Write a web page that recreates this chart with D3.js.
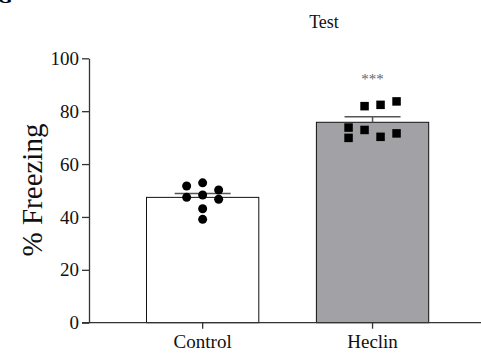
<!DOCTYPE html>
<html>
<head>
<meta charset="utf-8">
<script src="https://cdn.jsdelivr.net/npm/d3@7"></script>
<style>
  body { margin: 0; background: #fff; }
  text { font-family: "Liberation Serif", "Times New Roman", serif; }
</style>
</head>
<body>
<div id="chart"></div>
<script>
const groups = ['Control', 'Heclin'];
const means = [47.4, 75.8];
const sems = [1.5, 2.1];
const controlPoints = [51.7, 52.9, 50.2, 47.4, 48.3, 46.7, 43.1, 39.1];
const controlSlots = [-1, 0, 1, -1, 0, 1, 0, 0];
const heclinPoints = [81.9, 82.4, 83.7, 73.8, 69.9, 72.9, 70.3, 71.6];
const heclinSlots = [-0.5, 0.5, 1.5, -1.5, -1.5, -0.5, 0.5, 1.5];
const yTicks = [0, 20, 40, 60, 80, 100];
const fills = ['#ffffff', '#a2a1a6'];

const width = 481, height = 358;
const serif = '"Liberation Serif", "Times New Roman", serif';

const svg = d3.select('#chart')
  .append('svg')
  .attr('width', width)
  .attr('height', height);

const x = d3.scaleBand().domain(groups).range([146.5, 428.7]).paddingInner(0.339).paddingOuter(0);
const y = d3.scaleLinear().domain([0, 100]).range([322.7, 58.3]);
const slotW = 16;

// cropped panel letter at top-left (cut off in the source figure too)
svg.append('text')
  .attr('x', -3).attr('y', 3)
  .style('font-size', '20px').style('font-weight', 'bold')
  .text('G');

// title
svg.append('text')
  .attr('x', 324).attr('y', 28)
  .attr('text-anchor', 'middle')
  .style('font-family', serif)
  .style('font-size', '18px')
  .style('fill', '#111')
  .text('Test');

// bars
svg.selectAll('.bar')
  .data(groups)
  .enter()
  .append('rect')
  .attr('class', 'bar')
  .attr('x', (d) => x(d))
  .attr('width', x.bandwidth())
  .attr('y', (d, i) => y(means[i]))
  .attr('height', (d, i) => y(0) - y(means[i]))
  .style('fill', (d, i) => fills[i])
  .style('stroke', '#111')
  .style('stroke-width', 1);

// error bars (upper only)
const cap = 28;
groups.forEach((g, i) => {
  const cx = x(g) + x.bandwidth() / 2;
  svg.append('line')
    .attr('x1', cx).attr('x2', cx)
    .attr('y1', y(means[i])).attr('y2', y(means[i] + sems[i]))
    .style('stroke', '#555').style('stroke-width', 1.5);
  svg.append('line')
    .attr('x1', cx - cap).attr('x2', cx + cap)
    .attr('y1', y(means[i] + sems[i])).attr('y2', y(means[i] + sems[i]))
    .style('stroke', '#555').style('stroke-width', 1.5);
});

// control points
const cxC = x('Control') + x.bandwidth() / 2;
svg.selectAll('.dot')
  .data(controlPoints)
  .enter()
  .append('circle')
  .attr('class', 'dot')
  .attr('cx', (d, i) => cxC + controlSlots[i] * slotW)
  .attr('cy', (d) => y(d))
  .attr('r', 4.5)
  .style('fill', '#000');

// heclin points
const cxH = x('Heclin') + x.bandwidth() / 2;
const sq = 8.5;
svg.selectAll('.sq')
  .data(heclinPoints)
  .enter()
  .append('rect')
  .attr('class', 'sq')
  .attr('x', (d, i) => cxH + heclinSlots[i] * slotW - sq / 2)
  .attr('y', (d) => y(d) - sq / 2)
  .attr('width', sq)
  .attr('height', sq)
  .style('fill', '#000');

// significance
svg.append('text')
  .attr('x', cxH).attr('y', 84)
  .attr('text-anchor', 'middle')
  .style('font-family', serif)
  .style('font-size', '15px')
  .style('fill', '#666')
  .text('***');

// y axis
const yAxis = d3.axisLeft(y).tickValues(yTicks).tickSize(7).tickPadding(3).tickSizeOuter(0);
const gy = svg.append('g')
  .attr('transform', 'translate(89,0)')
  .call(yAxis);
gy.selectAll('path, line').style('stroke', '#333').style('stroke-width', 1.3);
gy.selectAll('text')
  .style('font-family', serif)
  .style('font-size', '19px')
  .style('fill', '#111');

// x axis
const xAxis = d3.axisBottom(x).tickSize(6).tickPadding(6).tickSizeOuter(0);
const gx = svg.append('g')
  .attr('transform', 'translate(0,' + y(0) + ')')
  .call(xAxis);
gx.select('.domain').remove();
gx.selectAll('line').style('stroke', '#333').style('stroke-width', 1.3);
gx.selectAll('text')
  .style('font-family', serif)
  .style('font-size', '19px')
  .style('fill', '#111');
svg.append('line')
  .attr('x1', 82).attr('x2', 481)
  .attr('y1', y(0)).attr('y2', y(0))
  .style('stroke', '#333').style('stroke-width', 1.3);

// y label
svg.append('text')
  .attr('transform', 'translate(42,' + 190 + ') rotate(-90)')
  .attr('text-anchor', 'middle')
  .style('font-family', serif)
  .style('font-size', '29px')
  .style('fill', '#111')
  .text('% Freezing');
</script>
</body>
</html>
